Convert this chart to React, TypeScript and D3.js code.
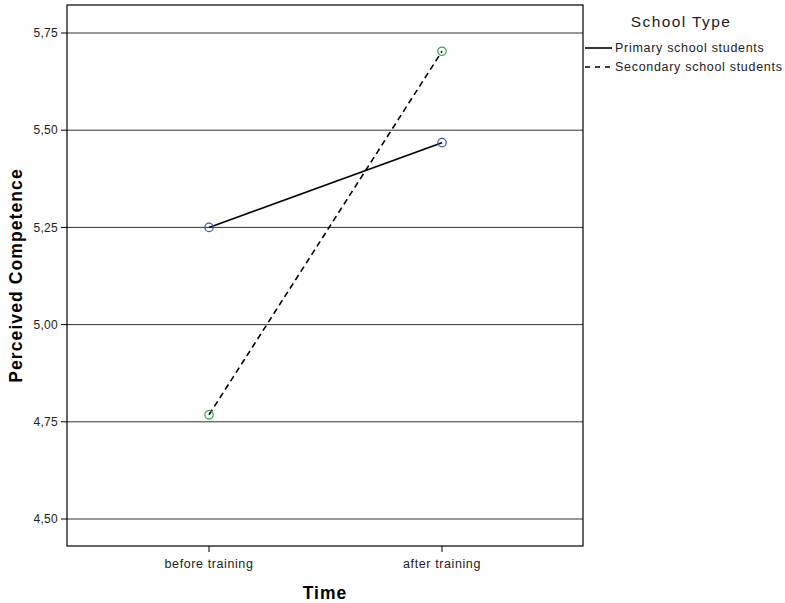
import React from "react";
import * as d3 from "d3";

const categories = ["before training", "after training"];
const primaryValues = [5.25, 5.468];
const secondaryValues = [4.768, 5.703];
const yTicks = [4.5, 4.75, 5.0, 5.25, 5.5, 5.75];
const seriesNames = ["Primary school students", "Secondary school students"];
const legendTitle = "School Type";
const xTitle = "Time";
const yTitle = "Perceived Competence";

const W = 785;
const H = 603;
const frame = { left: 67, right: 583, top: 5, bottom: 546 };
const font = "'Liberation Sans', Arial, sans-serif";

export default function App() {
  const y = d3.scaleLinear().domain([4.5, 5.75]).range([519, 33]);
  const x = d3.scalePoint<string>().domain(categories).range([209, 442]);
  const line = d3
    .line<[string, number]>()
    .x((d) => x(d[0]) as number)
    .y((d) => y(d[1]));
  const series = [
    { name: seriesNames[0], values: primaryValues, dash: "none", color: "#3f5bb0" },
    { name: seriesNames[1], values: secondaryValues, dash: "6,4", color: "#3cab4a" },
  ];
  const fmt = (v: number) => d3.format(".2f")(v).replace(".", ",");

  return (
    <svg width={W} height={H} style={{ display: "block", position: "absolute", left: 0, top: 0 }} fontFamily={font}>
      <rect x={0} y={0} width={W} height={H} fill="#fff" />
      {yTicks.map((t) => (
        <g key={t}>
          <line x1={frame.left} x2={frame.right} y1={y(t)} y2={y(t)} stroke="#333" strokeWidth={1} />
          <line x1={frame.left - 6} x2={frame.left} y1={y(t)} y2={y(t)} stroke="#000" strokeWidth={1} />
          <text x={frame.left - 9} y={y(t)} dy="0.35em" textAnchor="end" fontSize={12} letterSpacing={0.3} fill="#222">
            {fmt(t)}
          </text>
        </g>
      ))}
      <rect
        x={frame.left}
        y={frame.top}
        width={frame.right - frame.left}
        height={frame.bottom - frame.top}
        fill="none"
        stroke="#000"
        strokeWidth={1.2}
      />
      {categories.map((c) => (
        <g key={c}>
          <line x1={x(c)} x2={x(c)} y1={frame.bottom} y2={frame.bottom + 6} stroke="#000" />
          <text x={x(c)} y={frame.bottom + 22} textAnchor="middle" fontSize={12.5} letterSpacing={0.6} fill="#222">
            {c}
          </text>
        </g>
      ))}
      {series.map((s) => {
        const pts = categories.map((c, i) => [c, s.values[i]] as [string, number]);
        return (
          <g key={s.name}>
            <path d={line(pts) || ""} fill="none" stroke="#000" strokeWidth={1.6} strokeDasharray={s.dash} />
            {pts.map((p) => (
              <circle
                key={p[0]}
                cx={x(p[0])}
                cy={y(p[1])}
                r={4.2}
                fill="none"
                stroke={s.color}
                strokeWidth={1.3}
              />
            ))}
          </g>
        );
      })}
      <text x={(frame.left + frame.right) / 2} y={599} textAnchor="middle" fontSize={17.5} letterSpacing={1} fontWeight="bold">
        {xTitle}
      </text>
      <text
        transform={`translate(22,${(frame.top + frame.bottom) / 2}) rotate(-90)`}
        textAnchor="middle"
        fontSize={17.5}
        letterSpacing={1.1}
        fontWeight="bold"
      >
        {yTitle}
      </text>
      <text x={681} y={27} textAnchor="middle" fontSize={15.5} letterSpacing={1.4} fill="#222">
        {legendTitle}
      </text>
      {series.map((s, i) => (
        <g key={s.name}>
          <line
            x1={585}
            x2={612}
            y1={48 + i * 19}
            y2={48 + i * 19}
            stroke="#000"
            strokeWidth={1.6}
            strokeDasharray={s.dash === "none" ? undefined : "5,5"}
          />
          <text x={615} y={48 + i * 19} dy="0.35em" fontSize={12.5} letterSpacing={0.7} fill="#222">
            {s.name}
          </text>
        </g>
      ))}
    </svg>
  );
}
